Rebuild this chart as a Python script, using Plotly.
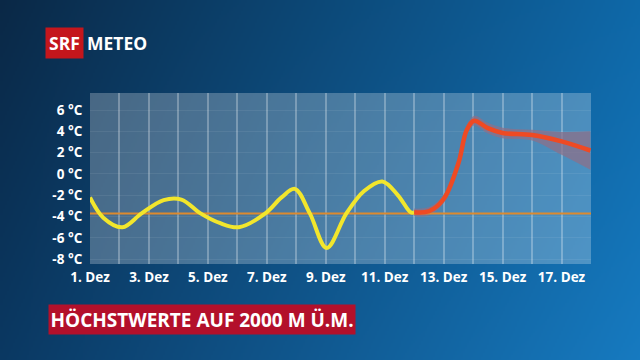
import base64, struct, zlib
import plotly.graph_objects as go

# ---------------- data ----------------
day_ticks = list(range(1, 19))
day_labels = [f"{d}. Dez" if d % 2 == 1 and d < 18 else "" for d in day_ticks]
temp_ticks = [6, 4, 2, 0, -2, -4, -6, -8]
temp_labels = [f"{t} °C" for t in temp_ticks]

obs_days = [1.0, 1.45, 2.1, 2.75, 3.5, 4.1, 4.75, 5.4, 6.05, 6.95, 7.5, 7.95, 8.46, 9.03,
            9.7, 10.3, 10.92, 11.45, 11.88, 12.0]
obs_vals = [-2.2, -4.1, -5.0, -3.7, -2.45, -2.4, -3.7, -4.6, -5.0, -3.7, -2.2, -1.4, -3.7, -6.95,
            -3.7, -1.6, -0.7, -2.0, -3.6, -3.6]

fc_days = [12.0, 12.5, 13.0, 13.5, 13.78, 14.03, 14.5, 15.0, 16.0, 17.0, 17.98]
fc_vals = [-3.6, -3.5, -2.35, 1.0, 4.1, 5.0, 4.3, 3.85, 3.65, 3.06, 2.2]
fc_upper = [-3.25, -3.1, -1.95, 1.45, 4.55, 5.45, 4.8, 4.35, 4.15, 3.95, 4.0]
fc_lower = [-3.95, -3.9, -2.75, 0.55, 3.65, 4.55, 3.8, 3.35, 3.15, 1.8, 0.4]

ref_level = -3.7

# ---------------- background gradient image ----------------
def make_png(w, h):
    tl, tr, bl, br = (10, 40, 70), (14, 104, 168), (10, 56, 98), (22, 122, 192)
    rows = []
    for j in range(h):
        v = j / (h - 1)
        row = bytearray()
        for i in range(w):
            u = i / (w - 1)
            for k in range(3):
                top = tl[k] * (1 - u) + tr[k] * u
                bot = bl[k] * (1 - u) + br[k] * u
                row.append(int(round(top * (1 - v) + bot * v)))
        rows.append(b"\x00" + bytes(row))
    raw = b"".join(rows)

    def chunk(t, d):
        return struct.pack(">I", len(d)) + t + d + struct.pack(">I", zlib.crc32(t + d) & 0xffffffff)

    return (b"\x89PNG\r\n\x1a\n" + chunk(b"IHDR", struct.pack(">IIBBBBB", w, h, 8, 2, 0, 0, 0))
            + chunk(b"IDAT", zlib.compress(raw, 9)) + chunk(b"IEND", b""))

bg_uri = "data:image/png;base64," + base64.b64encode(make_png(320, 180)).decode()

W, H = 640, 360
FONT = "Open Sans"

fig = go.Figure()

# uncertainty band
fig.add_trace(go.Scatter(x=fc_days, y=fc_upper, mode="lines", line=dict(width=0, shape="spline"),
                         hoverinfo="skip", showlegend=False))
fig.add_trace(go.Scatter(x=fc_days, y=fc_lower, mode="lines", line=dict(width=0, shape="spline"),
                         fill="tonexty", fillcolor="rgba(140,112,138,0.75)", hoverinfo="skip", showlegend=False))

# reference level
fig.add_trace(go.Scatter(x=[day_ticks[0], day_ticks[-1]], y=[ref_level, ref_level], mode="lines",
                         line=dict(color="#dd8a2e", width=2), showlegend=False))

# observed
fig.add_trace(go.Scatter(x=obs_days, y=obs_vals, mode="lines",
                         line=dict(color="#f2e62c", width=4, shape="spline", smoothing=1.0), showlegend=False))
# forecast
fig.add_trace(go.Scatter(x=fc_days, y=fc_vals, mode="lines",
                         line=dict(color="#ee4a24", width=4.5, shape="spline", smoothing=1.0), showlegend=False))

x0p, x1p = 90 / W, 591 / W
y0p, y1p = 1 - 264 / H, 1 - 93 / H

fig.update_layout(
    width=W, height=H,
    margin=dict(l=0, r=0, t=0, b=0, autoexpand=False),
    paper_bgcolor="#0c3a66",
    plot_bgcolor="rgba(0,0,0,0)",
    font=dict(family=FONT, color="white"),
    xaxis=dict(domain=[x0p, x1p], range=[1, 18], tickvals=day_ticks, ticktext=day_labels,
               automargin=False,
               showgrid=True, gridcolor="rgba(255,255,255,0.28)", gridwidth=1.5,
               zeroline=False, showline=False, ticks="outside", ticklen=1, tickcolor="rgba(0,0,0,0)",
               tickfont=dict(family=FONT, size=13.5, color="white", weight="bold"), fixedrange=True),
    yaxis=dict(domain=[y0p, y1p], range=[-8.45, 7.6], tickvals=temp_ticks, ticktext=temp_labels,
               automargin=False,
               showgrid=True, gridcolor="rgba(255,255,255,0.07)", gridwidth=1,
               zeroline=False, showline=False, ticks="outside", ticklen=4, tickcolor="rgba(0,0,0,0)",
               tickfont=dict(family=FONT, size=13.5, color="white", weight="bold"), fixedrange=True),
    images=[dict(source=bg_uri, xref="paper", yref="paper", x=0, y=1, sizex=1, sizey=1,
                 sizing="stretch", xanchor="left", yanchor="top", layer="below")],
    shapes=[dict(type="rect", xref="paper", yref="paper", x0=x0p, x1=x1p, y0=y0p, y1=y1p,
                 fillcolor="rgba(255,255,255,0.25)", line=dict(width=0), layer="below")],
    annotations=[
        dict(text="<b>SRF</b>", xref="paper", yref="paper", x=64 / W, y=1 - 42.5 / H,
             xanchor="center", yanchor="middle", showarrow=False, bgcolor="#c4161c",
             borderpad=3, font=dict(family=FONT, size=17.5, color="white")),
        dict(text="<b>METEO</b>", xref="paper", yref="paper", x=85 / W, y=1 - 42.5 / H,
             xanchor="left", yanchor="middle", showarrow=False,
             font=dict(family=FONT, size=17.5, color="white")),
        dict(text="<b>HÖCHSTWERTE AUF 2000 M Ü.M.</b>", xref="paper", yref="paper",
             x=48 / W, y=1 - 319 / H, xanchor="left", yanchor="middle", showarrow=False,
             bgcolor="#b3102b", borderpad=1.5, font=dict(family=FONT, size=19, color="white")),
    ],
)

fig.write_html("out.html")
